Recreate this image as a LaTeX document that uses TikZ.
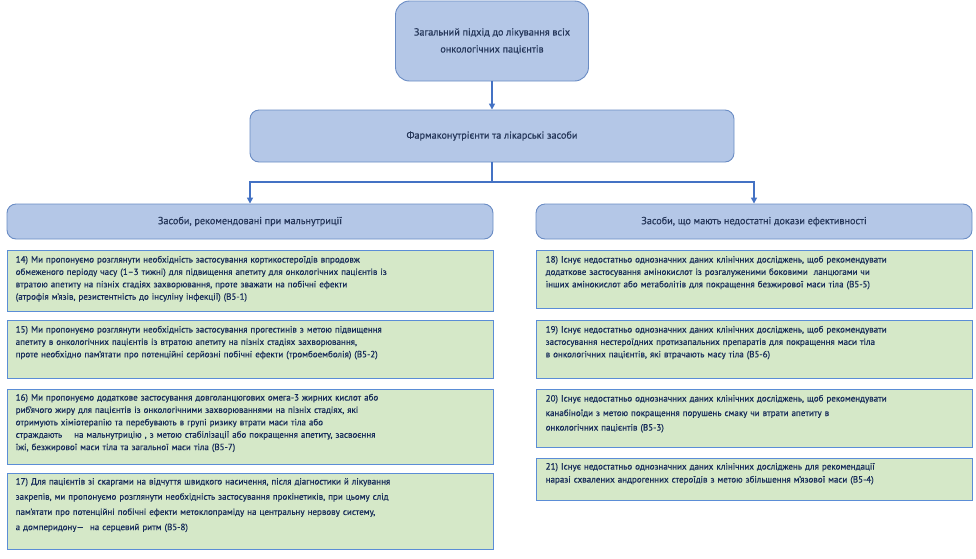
\documentclass[tikz,border=0pt]{standalone}
\usepackage{fontspec}
\setmainfont{PT Sans}[FakeBold=0.6]
\usetikzlibrary{arrows.meta}
\definecolor{bfill}{HTML}{B4C7E7}
\definecolor{bdraw}{HTML}{6A8CC4}
\definecolor{gfill}{HTML}{D5E8C8}
\definecolor{gdraw}{HTML}{5B8DD6}
\definecolor{arrowc}{HTML}{4472C4}
\definecolor{htext}{HTML}{26375A}
\definecolor{gtext}{HTML}{172C5A}
\begin{document}
\begin{tikzpicture}[x=1pt,y=-1pt,
  bluebox/.style={draw=bdraw,fill=bfill,line width=0.9pt,rounded corners=9pt,inner sep=0pt,text=htext,align=center,font=\fontsize{10.2}{17}\selectfont},
  greenbox/.style={draw=gdraw,fill=gfill,line width=1pt,inner sep=0pt},
  gtxt/.style={anchor=base west,inner sep=0pt,text=gtext,align=left,text width=470pt,font=\fontsize{9}{12.4}\selectfont},
  gtxtw/.style={gtxt,font=\fontsize{9}{15.2}\selectfont},
  conn/.style={draw=arrowc,line width=2pt},
  arr/.style={conn,-{Triangle[length=6pt,width=6pt]}}]
\useasboundingbox (0,0) rectangle (976,558);
% top level
\node[bluebox,rounded corners=14pt,minimum width=193pt,minimum height=80pt] (top) at (492,41)
  {Загальний підхід до лікування всіх\\онкологічних пацієнтів};
\node[bluebox,minimum width=484pt,minimum height=52pt] (mid) at (492,136)
  {Фармаконутрієнти та лікарські засоби};
\node[bluebox,minimum width=486pt,minimum height=35pt] (lh) at (250,221.5)
  {Засоби, рекомендовані при мальнутриції};
\node[bluebox,minimum width=436pt,minimum height=35pt] (rh) at (754,221.5)
  {Засоби, що мають недостатні докази ефективності};
% connectors
\coordinate (split) at (492,182);
\coordinate (lc) at (250,182);
\coordinate (rc) at (754,182);
\draw[arr] (top.south) -- (mid.north);
\draw[arr] (mid.south) -- (split) -- (lc) -- (lh.north);
\draw[arr] (mid.south) -- (split) -- (rc) -- (rh.north);
% left green boxes
\node[greenbox,minimum width=486pt,minimum height=61pt] (b14) at (250,280.5) {};
\node[gtxt] (t14) at ([xshift=9pt,yshift=-13pt]b14.north west)
  {14) Ми пропонуємо розглянути необхідність застосування кортикостероїдів впродовж\\
   обмеженого періоду часу (1–3 тижні) для підвищення апетиту для онкологічних пацієнтів із\\
   втратою апетиту на пізніх стадіях захворювання, проте зважати на побічні ефекти\\
   (атрофія м’язів, резистентність до інсуліну інфекції) (B5-1)};
\node[greenbox,minimum width=486pt,minimum height=58pt] (b15) at (250,349) {};
\node[gtxt] (t15) at ([xshift=9pt,yshift=-13pt]b15.north west)
  {15) Ми пропонуємо розглянути необхідність застосування прогестинів з метою підвищення\\
   апетиту в онкологічних пацієнтів із втратою апетиту на пізніх стадіях захворювання,\\
   проте необхідно пам’ятати про потенційні серйозні побічні ефекти (тромбоемболія) (B5-2)};
\node[greenbox,minimum width=486pt,minimum height=75pt] (b16) at (250,426.5) {};
\node[gtxt] (t16) at ([xshift=9pt,yshift=-12pt]b16.north west)
  {16) Ми пропонуємо додаткове застосування довголанцюгових омега-3 жирних кислот або\\
   риб’ячого жиру для пацієнтів із онкологічними захворюваннями на пізніх стадіях, які\\
   отримують хіміотерапію та перебувають в групі ризику втрати маси тіла або\\
   страждають\ \ \ \ на мальнутрицію , з метою стабілізації або покращення апетиту, засвоєння\\
   їжі, безжирової маси тіла та загальної маси тіла (B5-7)};
\node[greenbox,minimum width=486pt,minimum height=76pt] (b17) at (250,511) {};
\node[gtxtw] (t17) at ([xshift=9pt,yshift=-12pt]b17.north west)
  {17) Для пацієнтів зі скаргами на відчуття швидкого насичення, після діагностики й лікування\\
   закрепів, ми пропонуємо розглянути необхідність застосування прокінетиків, при цьому слід\\
   пам’ятати про потенційні побічні ефекти метоклопраміду на центральну нервову систему,\\
   а домперидону—\ \ на серцевий ритм (B5-8)};
% right green boxes
\node[greenbox,minimum width=436pt,minimum height=58pt] (b18) at (754,279) {};
\node[gtxt] (t18) at ([xshift=10pt,yshift=-13pt]b18.north west)
  {18) Існує недостатньо однозначних даних клінічних досліджень, щоб рекомендувати\\
   додаткове застосування амінокислот із розгалуженими боковими\ \ ланцюгами чи\\
   інших амінокислот або метаболітів для покращення безжирової маси тіла (B5-5)};
\node[greenbox,minimum width=436pt,minimum height=58pt] (b19) at (754,349) {};
\node[gtxt] (t19) at ([xshift=10pt,yshift=-13pt]b19.north west)
  {19) Існує недостатньо однозначних даних клінічних досліджень, щоб рекомендувати\\
   застосування нестероїдних протизапальних препаратів для покращення маси тіла\\
   в онкологічних пацієнтів, які втрачають масу тіла (B5-6)};
\node[greenbox,minimum width=436pt,minimum height=58pt] (b20) at (754,418) {};
\node[gtxtw,font=\fontsize{9}{14.5}\selectfont] (t20) at ([xshift=10pt,yshift=-13pt]b20.north west)
  {20) Існує недостатньо однозначних даних клінічних досліджень, щоб рекомендувати\\
   канабіноїди з метою покращення порушень смаку чи втрати апетиту в\\
   онкологічних пацієнтів (B5-3)};
\node[greenbox,minimum width=436pt,minimum height=42pt] (b21) at (754,479) {};
\node[gtxt,font=\fontsize{9}{13}\selectfont] (t21) at ([xshift=10pt,yshift=-12pt]b21.north west)
  {21) Існує недостатньо однозначних даних клінічних досліджень для рекомендації\\
   наразі схвалених андрогенних стероїдів з метою збільшення м’язової маси (B5-4)};
\end{tikzpicture}
\end{document}
